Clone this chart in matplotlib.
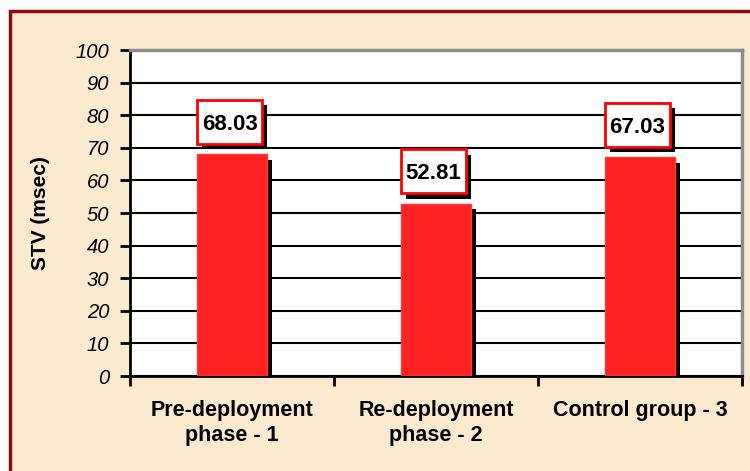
import matplotlib
matplotlib.use("Agg")
import matplotlib.pyplot as plt
import matplotlib.patheffects as pe
from matplotlib.patches import Rectangle
from matplotlib.transforms import ScaledTranslation

groups = ["Pre-deployment\nphase - 1", "Re-deployment\nphase - 2", "Control group - 3"]
stv = [68.03, 52.81, 67.03]
yticks = list(range(0, 101, 10))

plt.rcParams['font.family'] = ['Liberation Sans', 'DejaVu Sans']

fig = plt.figure(figsize=(7.5, 4.71), dpi=100, facecolor='white')

# beige panel with dark red frame (cut off on the right / bottom)
frame = Rectangle((10 / 750, -0.1), 1.2, 1 - 11 / 471 + 0.1, transform=fig.transFigure,
                  facecolor='#FBEAD0', edgecolor='#8B0E0E', linewidth=2.5, zorder=-10)
fig.patches.append(frame)

ax = fig.add_axes([130 / 750, 1 - 376 / 471, 612 / 750, 326 / 471])
ax.set_facecolor('white')

x = range(len(stv))
shadow = [pe.SimplePatchShadow(offset=(3.5, -4), shadow_rgbFace='black', alpha=1.0), pe.Normal()]
bars = ax.bar(x, stv, width=0.34, color='#FF2222', edgecolor='#FF3A3A', linewidth=1, zorder=3)
for b in bars:
    b.set_path_effects(shadow)

# value boxes: fixed pixel size, centred 10 units above each bar
bw, bh = 0.65, 0.44
for xi, v in zip(x, stv):
    tr = fig.dpi_scale_trans + ScaledTranslation(xi - 0.012, v + 10, ax.transData)
    box = Rectangle((-bw / 2, -bh / 2), bw, bh, transform=tr, facecolor='white',
                    edgecolor='#FF0000', linewidth=2, zorder=5)
    box.set_path_effects(shadow)
    ax.add_patch(box)
    ax.text(xi - 0.012, v + 10, f"{v:.2f}", ha='center', va='center_baseline', fontsize=16,
            fontweight='bold', zorder=6)

ax.set_xlim(-0.5, 2.5)
ax.set_ylim(0, 100)
ax.set_yticks(yticks)
ax.set_yticklabels([str(v) for v in yticks], fontsize=14.5, fontstyle='italic')
ax.yaxis.grid(True, color='black', linewidth=1.5, zorder=1)
ax.set_axisbelow(True)

ax.set_xticks([-0.5, 0.5, 1.5, 2.5])
ax.set_xticklabels([])
ax.set_xticks(list(x), minor=True)
ax.set_xticklabels(groups, minor=True, fontsize=15.5, fontweight='bold', linespacing=1.3)
ax.tick_params(axis='x', which='minor', length=0, pad=17)
ax.tick_params(axis='x', which='major', length=7, width=2, direction='out')
ax.tick_params(axis='y', length=7, width=2, direction='out', pad=8)

for s in ['left', 'bottom']:
    ax.spines[s].set_linewidth(2)
    ax.spines[s].set_color('black')
for s in ['top', 'right']:
    ax.spines[s].set_linewidth(2.5)
    ax.spines[s].set_color('#8C8C8C')

fig.text(40 / 750, 1 - 213 / 471, "STV (msec)", rotation=90, ha='center', va='center',
         fontsize=15, fontweight='bold')

fig.savefig("out.png", dpi=100, facecolor=fig.get_facecolor())
